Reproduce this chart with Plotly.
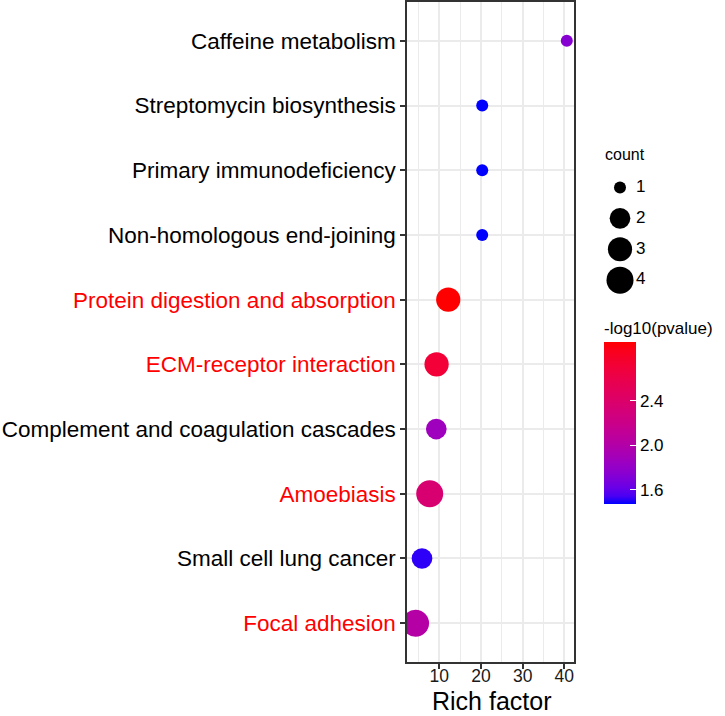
import plotly.graph_objects as go
import numpy as np

# ---------------- data ----------------
pathways = ["Caffeine metabolism", "Streptomycin biosynthesis", "Primary immunodeficiency",
            "Non-homologous end-joining", "Protein digestion and absorption",
            "ECM-receptor interaction", "Complement and coagulation cascades",
            "Amoebiasis", "Small cell lung cancer", "Focal adhesion"]
rich_factor = [40.6, 20.3, 20.3, 20.3, 12.15, 9.35, 9.28, 7.7, 5.85, 4.3]
counts = [1, 1, 1, 1, 3, 3, 2, 4, 2, 4]
neg_log10_p = [1.74, 1.475, 1.475, 1.475, 2.93, 2.71, 1.87, 2.36, 1.52, 2.02]
highlight = [False, False, False, False, True, True, False, True, False, True]

legend_counts = [1, 2, 3, 4]
x_ticks = [10, 20, 30, 40]
cbar_ticks = [1.6, 2.0, 2.4]

# ---------------- styling helpers ----------------
W, H = 725, 716
ML, MR, MT, MB = 407, 1, 0, 54
PW, PH = W - ML - MR, H - MT - MB

def px_x(p):
    return (p - ML) / PW

def px_y(p):
    return (MT + PH - p) / PH

def lab_to_hex(L, a, b):
    fy = (L + 16) / 116
    fx = fy + a / 500
    fz = fy - b / 200
    def finv(t):
        return t ** 3 if t > 6 / 29 else 3 * (6 / 29) ** 2 * (t - 4 / 29)
    X, Y, Z = 0.95047 * finv(fx), finv(fy), 1.08883 * finv(fz)
    r = 3.2406 * X - 1.5372 * Y - 0.4986 * Z
    g = -0.9689 * X + 1.8758 * Y + 0.0415 * Z
    bb = 0.0557 * X - 0.2040 * Y + 1.0570 * Z
    def gam(c):
        c = min(max(c, 0), 1)
        return 12.92 * c if c <= 0.0031308 else 1.055 * c ** (1 / 2.4) - 0.055
    return "#%02x%02x%02x" % tuple(int(round(gam(c) * 255)) for c in (r, g, bb))

lab_lo = np.array([32.30, 79.19, -107.86])   # blue
lab_hi = np.array([53.24, 80.09, 67.20])     # red
colorscale = []
for t in np.linspace(0, 1, 21):
    L, a, b = lab_lo + (lab_hi - lab_lo) * t
    colorscale.append([float(t), lab_to_hex(L, a, b)])

cmin, cmax = min(neg_log10_p), max(neg_log10_p)

def size_px(c):
    return 12 + 15 * np.sqrt((c - 1) / 3)

# bottom-to-top order for the category axis
cats = pathways[::-1]
tick_text = [("<span style='color:#ff0000'>%s</span>" % p) if h else p
             for p, h in zip(pathways, highlight)][::-1]

fig = go.Figure()
fig.add_trace(go.Scatter(
    x=rich_factor, y=pathways, mode="markers",
    marker=dict(size=[size_px(c) for c in counts], sizemode="diameter",
                color=neg_log10_p, colorscale=colorscale, cmin=cmin, cmax=cmax,
                line=dict(width=0), opacity=1,
                colorbar=dict(
                    title=dict(text="-log10(pvalue)", side="top",
                               font=dict(size=17, color="#000000")),
                    x=px_x(604), xanchor="left", y=px_y(410), yanchor="middle",
                    thickness=32, len=186, lenmode="pixels",
                    xpad=0, ypad=0, outlinewidth=0,
                    tickvals=cbar_ticks, ticktext=["%.1f" % v for v in cbar_ticks],
                    ticks="inside", ticklen=6, tickcolor="#ffffff", tickwidth=1,
                    tickfont=dict(size=17, color="#000000"))),
    showlegend=False, hoverinfo="x+y", cliponaxis=True))

# size legend
fig.add_trace(go.Scatter(
    x=[20] * len(legend_counts), y=legend_counts, mode="markers",
    marker=dict(size=[size_px(c) for c in legend_counts], color="#000000", opacity=1,
                sizemode="diameter", line=dict(width=0)),
    xaxis="x2", yaxis="y2", showlegend=False, hoverinfo="skip"))
fig.add_trace(go.Scatter(
    x=[36] * len(legend_counts), y=legend_counts, mode="text",
    text=[str(c) for c in legend_counts], textposition="middle right",
    textfont=dict(size=17, color="#000000"),
    xaxis="x2", yaxis="y2", showlegend=False, hoverinfo="skip"))

fig.update_layout(
    width=W, height=H,
    margin=dict(l=ML, r=MR, t=MT, b=MB),
    paper_bgcolor="white", plot_bgcolor="white",
    font=dict(family="Liberation Sans, Arial, sans-serif", color="#000000"),
    xaxis=dict(
        domain=[0, (574 - ML) / PW], range=[2.25, 42.33],
        tickvals=x_ticks, ticks="outside", ticklen=5, tickwidth=1.5, tickcolor="#333333",
        tickfont=dict(size=17.5, color="#1a1a1a"), ticklabelstandoff=-8,
        showgrid=True, gridcolor="#ebebeb", gridwidth=2,
        minor=dict(dtick=5, tick0=0, showgrid=True, gridcolor="#ebebeb", gridwidth=1),
        showline=True, mirror=True, linecolor="#333333", linewidth=1.5,
        zeroline=False),
    yaxis=dict(
        type="category", categoryorder="array", categoryarray=cats,
        tickvals=cats, ticktext=tick_text, range=[-0.6, 9.6],
        ticks="outside", ticklen=5, tickwidth=1.5, tickcolor="#333333",
        tickfont=dict(size=22.5, color="#000000"),
        showgrid=True, gridcolor="#ebebeb", gridwidth=2,
        showline=True, mirror=True, linecolor="#333333", linewidth=1.5,
        zeroline=False),
    xaxis2=dict(domain=[px_x(600), 1], range=[0, 124], visible=False, fixedrange=True),
    yaxis2=dict(domain=[px_y(294.5), px_y(170.5)], range=[4.5, 0.5], visible=False,
                anchor="x2", fixedrange=True),
    annotations=[
        dict(text="count", x=px_x(603), y=px_y(153), xref="paper", yref="paper",
             xanchor="left", yanchor="middle", showarrow=False,
             font=dict(size=16, color="#000000")),
        dict(text="Rich factor", x=px_x(491), y=px_y(716), xref="paper", yref="paper",
             xanchor="center", yanchor="bottom", showarrow=False, borderpad=0,
             font=dict(size=25, color="#000000")),
    ],
)

fig.write_html("out.html")
